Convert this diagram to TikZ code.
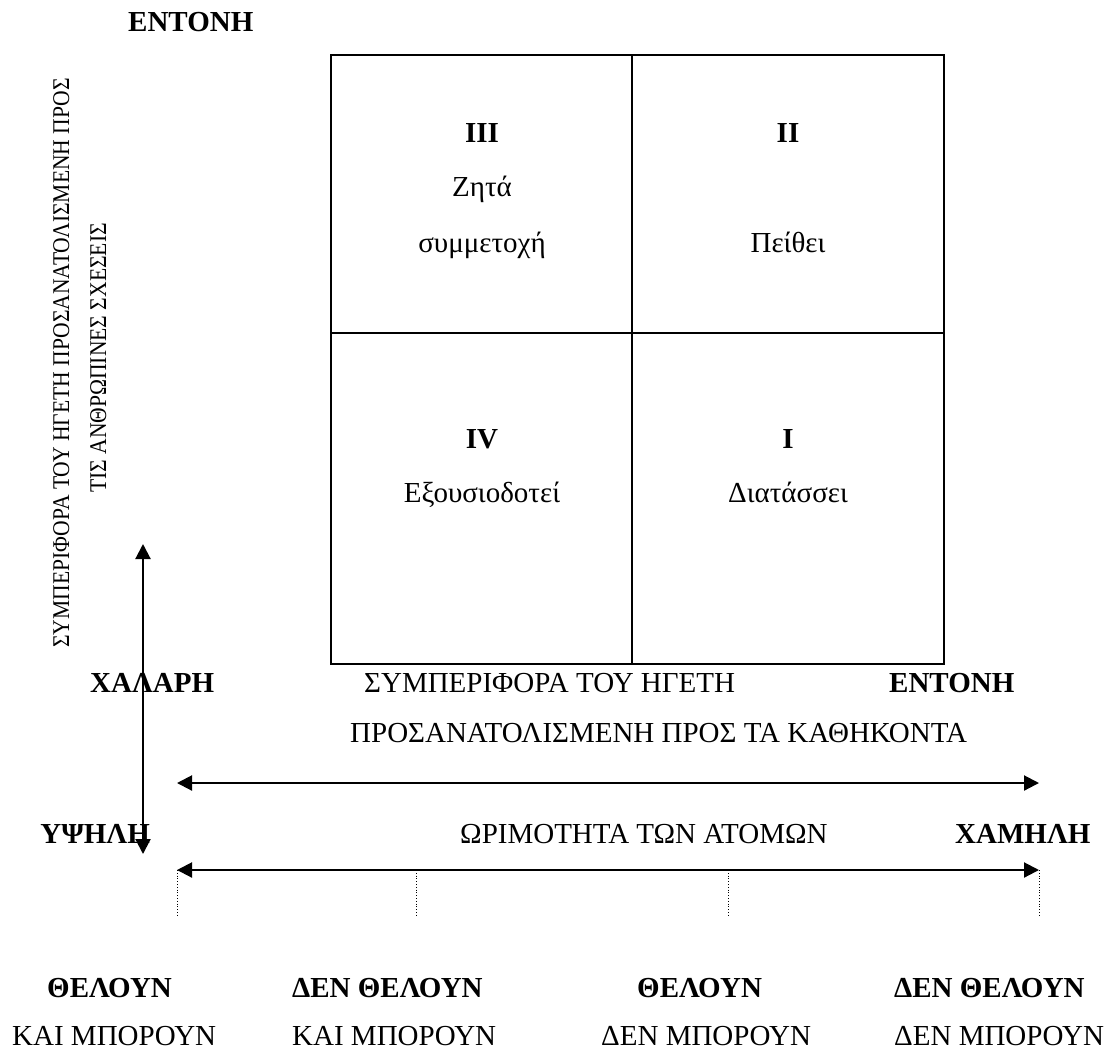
\documentclass[tikz,border=0pt]{standalone}
\usepackage{fontspec}
\setmainfont{Liberation Serif}
\usetikzlibrary{arrows.meta}
\begin{document}
\begin{tikzpicture}[x=1pt,y=-1pt,
  txt/.style={inner sep=0pt, font=\fontsize{29}{35}\selectfont},
  btxt/.style={inner sep=0pt, font=\fontsize{29}{35}\selectfont\bfseries},
  vtxt/.style={inner sep=0pt, rotate=90, anchor=base, font=\fontsize{24}{29}\selectfont},
  frame/.style={line width=2pt},
  axis/.style={line width=2.1pt, {Triangle[length=15pt,width=15pt]}-{Triangle[length=15pt,width=15pt]}},
  tick/.style={line width=0.8pt, dotted}]
\useasboundingbox (0,0) rectangle (1118,1050);
% matrix box
\coordinate (tl) at (331,55);
\coordinate (br) at (944,664);
\coordinate (mt) at (632,55);
\coordinate (mb) at (632,664);
\coordinate (ml) at (331,333);
\coordinate (mr) at (944,333);
\draw[frame] (tl) rectangle (br);
\draw[frame] (mt) -- (mb);
\draw[frame] (ml) -- (mr);
% quadrant texts
\node[btxt, anchor=base] (q3) at (482,142) {III};
\node[txt, anchor=base] (q3a) at (482,196) {Ζητά};
\node[txt, anchor=base] (q3b) at (482,252) {συμμετοχή};
\node[btxt, anchor=base] (q2) at (788,142) {II};
\node[txt, anchor=base] (q2a) at (788,252) {Πείθει};
\node[btxt, anchor=base] (q4) at (482,448) {IV};
\node[txt, anchor=base] (q4a) at (482,502) {Εξουσιοδοτεί};
\node[btxt, anchor=base] (q1) at (788,448) {I};
\node[txt, anchor=base] (q1a) at (788,502) {Διατάσσει};
% top label
\node[btxt, anchor=base west] (entop) at (128,31) {ΕΝΤΟΝΗ};
% vertical texts
\node[vtxt] (v1) at (69,363) {\scalebox{0.9}[1]{ΣΥΜΠΕΡΙΦΟΡΑ ΤΟΥ ΗΓΕΤΗ ΠΡΟΣΑΝΑΤΟΛΙΣΜΕΝΗ ΠΡΟΣ}};
\node[vtxt] (v2) at (106,358) {\scalebox{0.9}[1]{ΤΙΣ ΑΝΘΡΩΠΙΝΕΣ ΣΧΕΣΕΙΣ}};
% vertical arrow
\coordinate (vtop) at (143,544);
\coordinate (vbot) at (143,854);
\draw[axis] (vbot) -- (vtop);
% row of task labels
\node[btxt, anchor=base west] (xal) at (90,692) {ΧΑΛΑΡΗ};
\node[txt, anchor=base west] (sym) at (364,692) {ΣΥΜΠΕΡΙΦΟΡΑ ΤΟΥ ΗΓΕΤΗ};
\node[btxt, anchor=base west] (ent) at (889,692) {ΕΝΤΟΝΗ};
\node[txt, anchor=base west] (pros) at (350,742) {ΠΡΟΣΑΝΑΤΟΛΙΣΜΕΝΗ ΠΡΟΣ ΤΑ ΚΑΘΗΚΟΝΤΑ};
% arrow 1
\coordinate (a1l) at (177,783);
\coordinate (a1r) at (1039,783);
\draw[axis] (a1l) -- (a1r);
% maturity labels
\node[btxt, anchor=base east] (ypsili) at (150,843) {ΥΨΗΛΗ};
\node[txt, anchor=base west] (orim) at (460,843) {ΩΡΙΜΟΤΗΤΑ ΤΩΝ ΑΤΟΜΩΝ};
\node[btxt, anchor=base west] (xamili) at (955,843) {ΧΑΜΗΛΗ};
% arrow 2
\coordinate (a2l) at (177,870);
\coordinate (a2r) at (1039,870);
\draw[axis] (a2l) -- (a2r);
% ticks
\coordinate (t1) at (177,870); \coordinate (t1b) at (177,915);
\coordinate (t2) at (416,870); \coordinate (t2b) at (416,915);
\coordinate (t3) at (728,870); \coordinate (t3b) at (728,915);
\coordinate (t4) at (1039,870); \coordinate (t4b) at (1039,915);
\draw[tick] (t1) -- (t1b);
\draw[tick] (t2) -- (t2b);
\draw[tick] (t3) -- (t3b);
\draw[tick] (t4) -- (t4b);
% bottom labels
\node[btxt, anchor=base west] (b1a) at (47,997) {ΘΕΛΟΥΝ};
\node[btxt, anchor=base west] (b2a) at (292,997) {ΔΕΝ ΘΕΛΟΥΝ};
\node[btxt, anchor=base west] (b3a) at (637,997) {ΘΕΛΟΥΝ};
\node[btxt, anchor=base west] (b4a) at (894,997) {ΔΕΝ ΘΕΛΟΥΝ};
\node[txt, anchor=base west] (b1b) at (12,1045) {ΚΑΙ ΜΠΟΡΟΥΝ};
\node[txt, anchor=base west] (b2b) at (292,1045) {ΚΑΙ ΜΠΟΡΟΥΝ};
\node[txt, anchor=base west] (b3b) at (601,1045) {ΔΕΝ ΜΠΟΡΟΥΝ};
\node[txt, anchor=base west] (b4b) at (894,1045) {ΔΕΝ ΜΠΟΡΟΥΝ};
\end{tikzpicture}
\end{document}
